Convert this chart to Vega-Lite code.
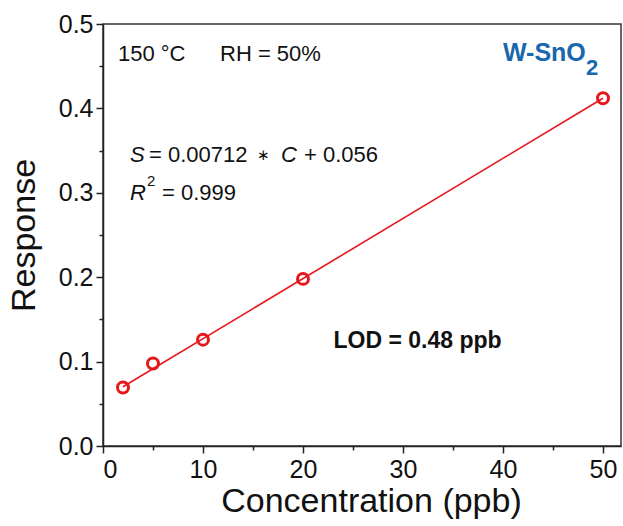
{
  "$schema": "https://vega.github.io/schema/vega-lite/v6.json",
  "width": 518,
  "height": 422,
  "autosize": {"type": "none"},
  "padding": {"left": 103, "top": 24, "right": 2, "bottom": 80},
  "background": "white",
  "config": {
    "font": "Liberation Sans",
    "view": {"stroke": "#333333", "strokeWidth": 1.5},
    "axis": {
      "grid": false,
      "domainColor": "#222222",
      "domainWidth": 1.5,
      "tickColor": "#222222",
      "tickWidth": 1.5,
      "labelColor": "#111111",
      "titleColor": "#111111",
      "labelFont": "Liberation Sans",
      "titleFont": "Liberation Sans",
      "labelFontSize": 25,
      "titleFontSize": 34,
      "titleFontWeight": "normal"
    }
  },
  "layer": [
    {
      "data": {"values": [{"C": 2, "S": 0.0702}, {"C": 50, "S": 0.412}]},
      "mark": {"type": "line", "color": "#e8161b", "strokeWidth": 1.6},
      "encoding": {
        "x": {
          "field": "C", "type": "quantitative",
          "scale": {"domain": [0, 51.8], "nice": false, "zero": false},
          "axis": {
            "title": "Concentration (ppb)",
            "values": [0, 5, 10, 15, 20, 25, 30, 35, 40, 45, 50],
            "labelExpr": "datum.value % 10 === 0 ? datum.label : ''",
            "format": "d",
            "tickSize": {"condition": {"test": "datum.value % 10 !== 0", "value": 4}, "value": 7},
            "labelPadding": 4,
            "titlePadding": 2,
            "titleX": 268
          }
        },
        "y": {
          "field": "S", "type": "quantitative",
          "scale": {"domain": [0, 0.5], "nice": false, "zero": false},
          "axis": {
            "title": "Response",
            "values": [0, 0.05, 0.1, 0.15, 0.2, 0.25, 0.3, 0.35, 0.4, 0.45, 0.5],
            "labelExpr": "round(datum.value * 100) % 10 === 0 ? format(datum.value, '.1f') : ''",
            "tickSize": {"condition": {"test": "round(datum.value * 100) % 10 !== 0", "value": 4}, "value": 7},
            "labelPadding": 3,
            "titlePadding": 17
          }
        }
      }
    },
    {
      "data": {"values": [
        {"C": 2, "S": 0.0693},
        {"C": 5, "S": 0.0977},
        {"C": 10, "S": 0.126},
        {"C": 20, "S": 0.198},
        {"C": 50, "S": 0.412}
      ]},
      "mark": {"type": "point", "shape": "circle", "filled": false, "color": "#e8161b", "strokeWidth": 3, "size": 120, "opacity": 1},
      "encoding": {
        "x": {"field": "C", "type": "quantitative"},
        "y": {"field": "S", "type": "quantitative"}
      }
    },
    {
      "data": {"values": [{}]},
      "mark": {"type": "text", "text": "150 °C", "align": "left", "baseline": "middle", "fontSize": 22, "color": "#111111"},
      "encoding": {"x": {"datum": 1.5}, "y": {"datum": 0.464}}
    },
    {
      "data": {"values": [{}]},
      "mark": {"type": "text", "text": "RH = 50%", "align": "left", "baseline": "middle", "fontSize": 22, "color": "#111111"},
      "encoding": {"x": {"datum": 11.7}, "y": {"datum": 0.464}}
    },
    {
      "data": {"values": [{}]},
      "mark": {"type": "text", "text": "W-SnO", "align": "left", "baseline": "middle", "fontSize": 25, "fontWeight": "bold", "color": "#1a67ad"},
      "encoding": {"x": {"datum": 40.0}, "y": {"datum": 0.466}}
    },
    {
      "data": {"values": [{}]},
      "mark": {"type": "text", "text": "2", "align": "left", "baseline": "middle", "fontSize": 22, "fontWeight": "bold", "color": "#1a67ad"},
      "encoding": {"x": {"datum": 48.3}, "y": {"datum": 0.448}}
    },
    {
      "data": {"values": [{}]},
      "mark": {"type": "text", "text": "S", "align": "left", "baseline": "middle", "fontSize": 22, "fontStyle": "italic", "color": "#111111"},
      "encoding": {"x": {"datum": 2.7}, "y": {"datum": 0.345}}
    },
    {
      "data": {"values": [{}]},
      "mark": {"type": "text", "text": "= 0.00712", "align": "left", "baseline": "middle", "fontSize": 22, "color": "#111111"},
      "encoding": {"x": {"datum": 4.6}, "y": {"datum": 0.345}}
    },
    {
      "data": {"values": [{}]},
      "mark": {"type": "text", "text": "∗", "align": "center", "baseline": "middle", "fontSize": 15, "color": "#111111"},
      "encoding": {"x": {"datum": 16.0}, "y": {"datum": 0.345}}
    },
    {
      "data": {"values": [{}]},
      "mark": {"type": "text", "text": "C", "align": "left", "baseline": "middle", "fontSize": 22, "fontStyle": "italic", "color": "#111111"},
      "encoding": {"x": {"datum": 17.8}, "y": {"datum": 0.345}}
    },
    {
      "data": {"values": [{}]},
      "mark": {"type": "text", "text": "+ 0.056", "align": "left", "baseline": "middle", "fontSize": 22, "color": "#111111"},
      "encoding": {"x": {"datum": 20.1}, "y": {"datum": 0.345}}
    },
    {
      "data": {"values": [{}]},
      "mark": {"type": "text", "text": "R", "align": "left", "baseline": "middle", "fontSize": 22, "fontStyle": "italic", "color": "#111111"},
      "encoding": {"x": {"datum": 2.7}, "y": {"datum": 0.300}}
    },
    {
      "data": {"values": [{}]},
      "mark": {"type": "text", "text": "2", "align": "left", "baseline": "middle", "fontSize": 15, "color": "#111111"},
      "encoding": {"x": {"datum": 4.4}, "y": {"datum": 0.314}}
    },
    {
      "data": {"values": [{}]},
      "mark": {"type": "text", "text": "= 0.999", "align": "left", "baseline": "middle", "fontSize": 22, "color": "#111111"},
      "encoding": {"x": {"datum": 5.9}, "y": {"datum": 0.300}}
    },
    {
      "data": {"values": [{}]},
      "mark": {"type": "text", "text": "LOD = 0.48 ppb", "align": "center", "baseline": "middle", "fontSize": 23, "fontWeight": "bold", "color": "#111111"},
      "encoding": {"x": {"datum": 31.45}, "y": {"datum": 0.125}}
    }
  ]
}
